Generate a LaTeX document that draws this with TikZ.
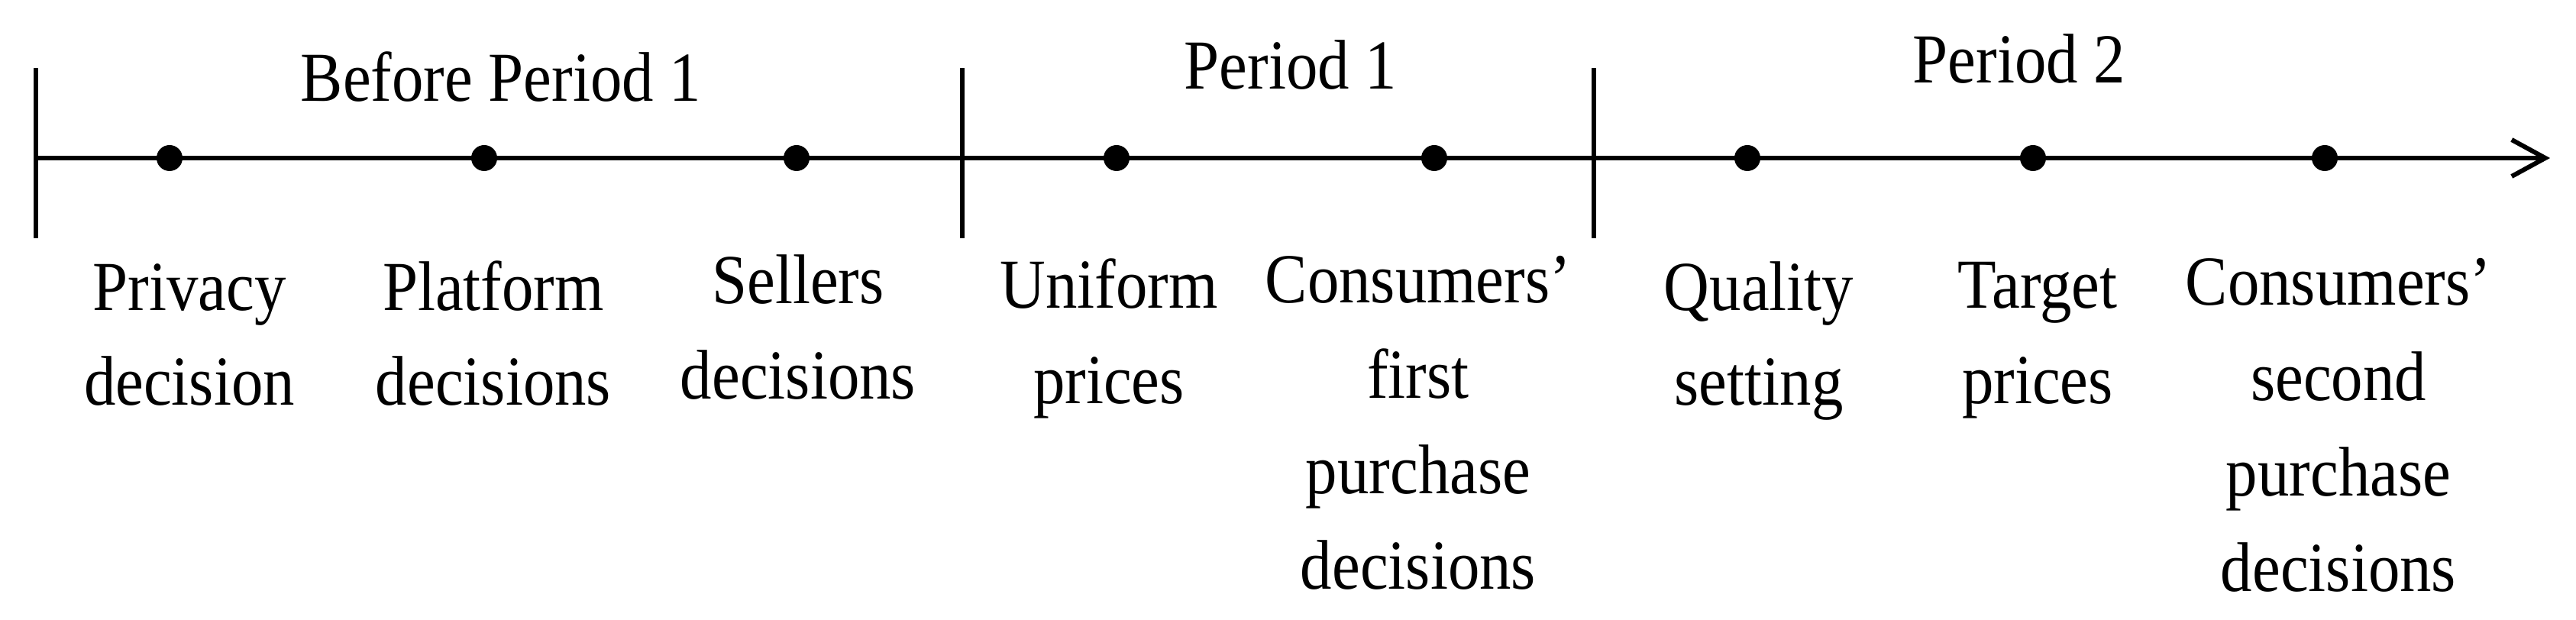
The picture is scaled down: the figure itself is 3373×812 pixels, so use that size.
\documentclass[tikz,border=0pt]{standalone}
\usepackage{fontspec}
\setmainfont[FakeStretch=0.9]{Liberation Serif}
\usetikzlibrary{arrows.meta}
\begin{document}
\begin{tikzpicture}[x=0.25pt,y=-0.25pt,
  dot/.style={circle,fill=black,inner sep=0pt,minimum size=8.5pt},
  lbl/.style={font=\fontsize{23}{31.25}\selectfont,align=center,anchor=base,inner sep=0pt},
  ttl/.style={font=\fontsize{23}{28}\selectfont,anchor=base,inner sep=0pt},
  axisline/.style={line width=1.5pt},
  tickline/.style={line width=1.5pt},
]
\useasboundingbox (0,0) rectangle (3373,812);
% axis
\coordinate (s) at (47,207);
\coordinate (e) at (3339,207);
\draw[axisline,-{Straight Barb[length=11pt,width=12pt,line width=1.5pt]}] (s) -- (e);
% ticks
\coordinate (t0a) at (47,89);   \coordinate (t0b) at (47,312);
\coordinate (t1a) at (1260,89); \coordinate (t1b) at (1260,312);
\coordinate (t2a) at (2087,89); \coordinate (t2b) at (2087,312);
\draw[tickline] (t0a) -- (t0b);
\draw[tickline] (t1a) -- (t1b);
\draw[tickline] (t2a) -- (t2b);
% dots
\node[dot] (d1) at (222,207) {};
\node[dot] (d2) at (634,207) {};
\node[dot] (d3) at (1043,207) {};
\node[dot] (d4) at (1462,207) {};
\node[dot] (d5) at (1878,207) {};
\node[dot] (d6) at (2288,207) {};
\node[dot] (d7) at (2662,207) {};
\node[dot] (d8) at (3044,207) {};
% period titles
\node[ttl] (p0) at (656,133) {Before Period 1};
\node[ttl] (p1) at (1690,117) {Period 1};
\node[ttl] (p2) at (2644,109) {Period 2};
% labels (anchored at the baseline of the last line)
\node[lbl] (l1) at (248,531) {Privacy\\decision};
\node[lbl] (l2) at (646,531) {Platform\\decisions};
\node[lbl] (l3) at (1045,523) {Sellers\\decisions};
\node[lbl] (l4) at (1452,528) {Uniform\\prices};
\node[lbl] (l5) at (1857,772) {Consumers’\\first\\purchase\\decisions};
\node[lbl] (l6) at (2303,531) {Quality\\setting};
\node[lbl] (l7) at (2668,528) {Target\\prices};
\node[lbl] (l8) at (3062,774) {Consumers’\\second\\purchase\\decisions};
\end{tikzpicture}
\end{document}
